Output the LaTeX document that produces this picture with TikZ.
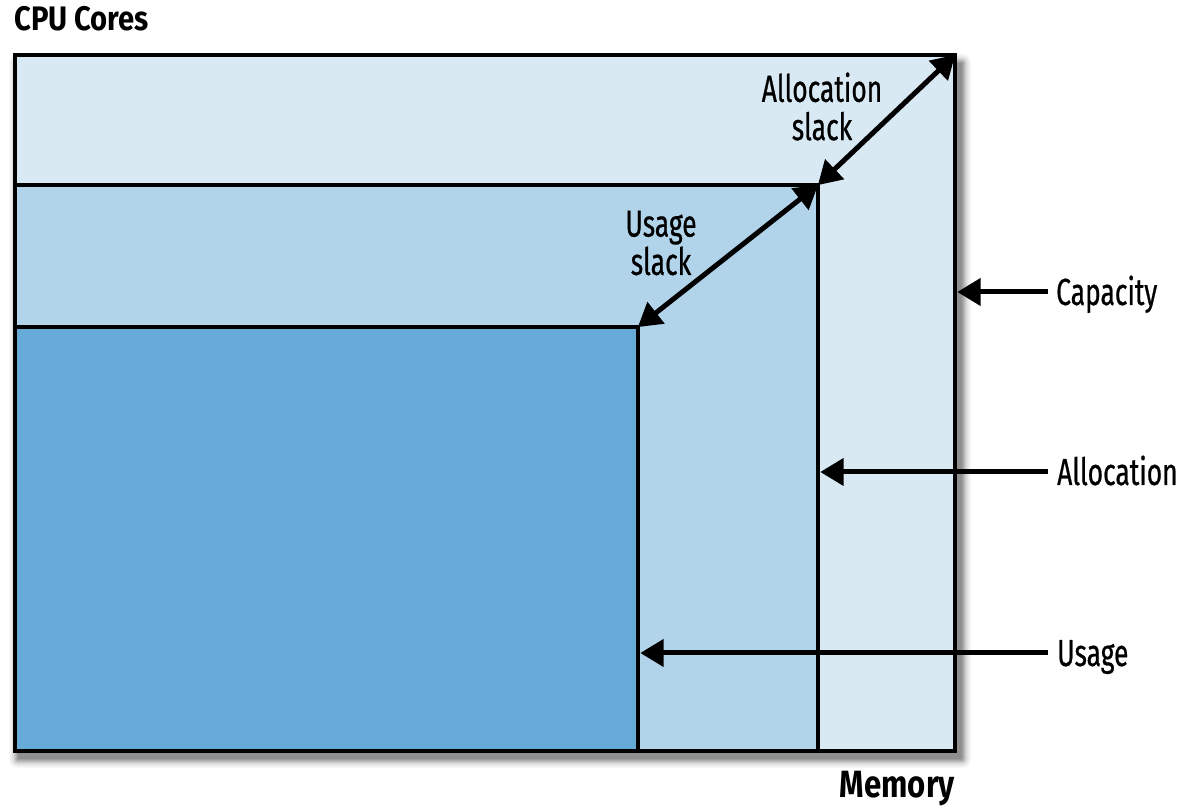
\documentclass[tikz,border=0pt]{standalone}
\usepackage{fontspec}
\newfontfamily\lab{Fira Sans}[FakeStretch=0.70, FakeBold=0.6]
\newfontfamily\labb{Fira Sans}[FakeStretch=0.82]
\newfontfamily\labc{Fira Sans}[FakeStretch=0.86]
\usetikzlibrary{calc}
\definecolor{capfill}{RGB}{217,233,244}
\definecolor{allocfill}{RGB}{178,212,234}
\definecolor{usefill}{RGB}{102,170,215}
\newcommand{\myhead}[2]{\fill (#2) -- ($(#2)!23pt!(#1)!14pt!90:(#1)$) -- ($(#2)!23pt!(#1)!14pt!-90:(#1)$) -- cycle;}
\begin{document}
\begin{tikzpicture}[x=1pt,y=1pt,
  box/.style={line width=4.8pt, draw=black},
  shaft/.style={line width=5pt, draw=black, shorten >=16pt},
  dshaft/.style={line width=5pt, draw=black, shorten >=16pt, shorten <=16pt},
  lbl/.style={font=\lab\fontsize{37.7}{38.3}\selectfont, inner sep=0pt, text height=26pt, text depth=0pt, anchor=west},
  slk/.style={font=\lab\fontsize{37.7}{38.3}\selectfont, align=center, inner sep=0pt},
  axislbl/.style={inner sep=0pt}]
\useasboundingbox (0,0) rectangle (1181,810);
% soft shadow
\foreach \i/\c in {9/3,8/5,7/8,6/11,5/15,4/20,3/26,2/32,1/38,0/44}
  \fill[black!\c, rounded corners=\i pt] (18-\i,51-\i) rectangle (962+\i,747+\i);
% rectangles
\draw[box, fill=capfill] (15,59) rectangle (955,755);
\draw[box, fill=allocfill] (15,59) rectangle (818,625);
\draw[box, fill=usefill] (15,59) rectangle (638,483);
% corners and arrow ends
\coordinate (capC) at (955,755);
\coordinate (allocC) at (818,625);
\coordinate (useC) at (638,483);
\coordinate (capE) at (957.5,518);
\coordinate (allocE) at (820.5,338);
\coordinate (useE) at (640.5,157);
% axis labels
\node[axislbl, anchor=base west, font=\labc\bfseries\fontsize{34}{34}\selectfont] (cpu) at (14,779) {CPU Cores};
\node[axislbl, anchor=base east, font=\labb\bfseries\fontsize{38}{38}\selectfont] (mem) at (955,12) {Memory};
% right labels
\node[lbl] (cap) at (1056,518) {Capacity};
\node[lbl] (alloc) at (1057,338) {Allocation};
\node[lbl] (use) at (1057,157) {Usage};
\coordinate (capS) at ([xshift=-8pt]cap.west);
\coordinate (allocS) at ([xshift=-9pt]alloc.west);
\coordinate (useS) at ([xshift=-9pt]use.west);
% slack labels
\node[slk] (aslack) at (822,703.5) {Allocation\\slack};
\node[slk] (uslack) at (661,567) {Usage\\slack};
% arrows
\draw[shaft] (capS) -- (capE);   \myhead{capS}{capE}
\draw[shaft] (allocS) -- (allocE); \myhead{allocS}{allocE}
\draw[shaft] (useS) -- (useE);   \myhead{useS}{useE}
\draw[dshaft] (allocC) -- (capC); \myhead{allocC}{capC} \myhead{capC}{allocC}
\draw[dshaft] (useC) -- (allocC); \myhead{useC}{allocC} \myhead{allocC}{useC}
\end{tikzpicture}
\end{document}
